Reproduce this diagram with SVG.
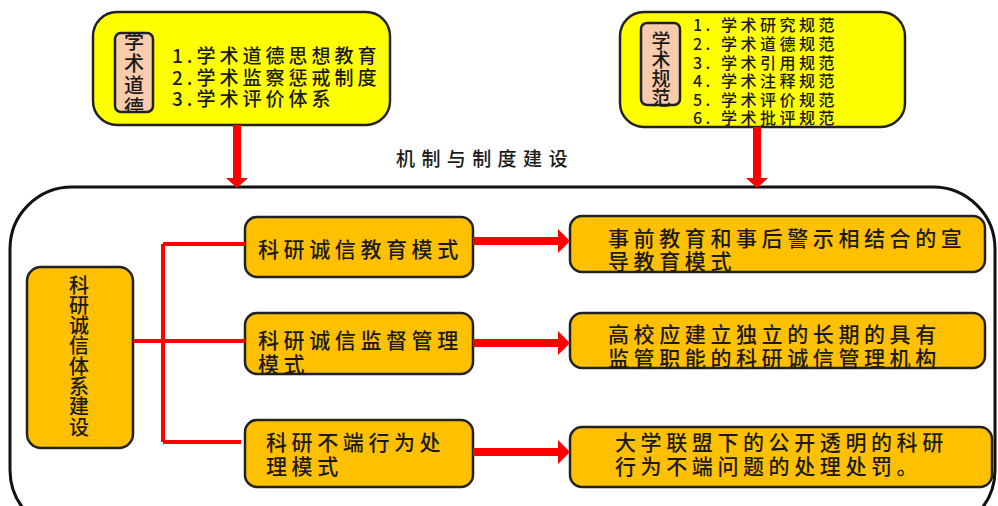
<svg xmlns="http://www.w3.org/2000/svg" width="998" height="506" viewBox="0 0 998 506">
<style>
text{font-family:"Noto Sans CJK SC","Noto Sans CJK JP",sans-serif;fill:#1a1a1a;dominant-baseline:central;font-weight:500}
.yel{fill:#FFFF00;stroke:#222;stroke-width:2.5}
.peach{fill:#F8CBAD;stroke:#222;stroke-width:2.5}
.org{fill:#FFC000;stroke:#222;stroke-width:2.5}
.ln{fill:none;stroke:#FF0000;stroke-width:4}
.arr{fill:#FF0000;stroke:none}
.t20{font-size:21px;letter-spacing:4.6px}
.vt{writing-mode:vertical-rl}
</style>
<defs>
<clipPath id="c1"><rect x="115" y="33" width="38" height="79" rx="6"/></clipPath>
</defs>
<rect x="0" y="0" width="998" height="506" fill="#fff"/>
<g id="big">
<rect x="10" y="187" width="985" height="345" rx="62" fill="none" stroke="#111" stroke-width="3"/>
</g>
<g id="label-mech"><text x="396" y="157" font-size="19" letter-spacing="6.4">机制与制度建设</text></g>
<g id="n-top-left">
<rect class="yel" x="93" y="12" width="297" height="113" rx="24"/>
<rect class="peach" x="115" y="33" width="38" height="79" rx="6"/>
<text class="vt" clip-path="url(#c1)" x="134" y="31" font-size="20" letter-spacing="2">学术道德</text>
<g font-size="19" letter-spacing="4">
<text x="172" y="54">1.学术道德思想教育</text>
<text x="172" y="76">2.学术监察惩戒制度</text>
<text x="172" y="97">3.学术评价体系</text>
</g>
</g>
<g id="n-top-right">
<rect class="yel" x="620" y="12" width="285" height="115" rx="24"/>
<rect class="peach" x="641" y="23" width="39" height="82" rx="6"/>
<text class="vt" x="661" y="31" font-size="19">学术规范</text>
<g font-size="16" letter-spacing="3.5">
<text x="693" y="24">1. 学术研究规范</text>
<text x="693" y="43">2. 学术道德规范</text>
<text x="693" y="62">3. 学术引用规范</text>
<text x="693" y="80">4. 学术注释规范</text>
<text x="693" y="99">5. 学术评价规范</text>
<text x="693" y="117">6. 学术批评规范</text>
</g>
</g>
<g id="n-root">
<rect class="org" x="27" y="267" width="106" height="181" rx="14"/>
<text class="vt" x="79" y="275" font-size="20" letter-spacing="0.3">科研诚信体系建设</text>
</g>
<g id="n-m1"><rect class="org" x="245" y="217" width="228" height="60" rx="12"/><text class="t20" x="258" y="248">科研诚信教育模式</text></g>
<g id="n-m2"><rect class="org" x="245" y="313" width="228" height="61" rx="12"/><text class="t20" x="258" y="339">科研诚信监督管理</text><text class="t20" x="258" y="363">模式</text></g>
<g id="n-m3"><rect class="org" x="245" y="420" width="228" height="67" rx="12"/><text class="t20" x="266" y="441">科研不端行为处</text><text class="t20" x="266" y="465">理模式</text></g>
<g id="n-r1"><rect class="org" x="570" y="216" width="415" height="56" rx="12"/><text class="t20" x="608" y="237">事前教育和事后警示相结合的宣</text><text class="t20" x="608" y="260">导教育模式</text></g>
<g id="n-r2"><rect class="org" x="570" y="313" width="415" height="55" rx="12"/><text class="t20" x="608" y="333">高校应建立独立的长期的具有</text><text class="t20" x="608" y="357">监管职能的科研诚信管理机构</text></g>
<g id="n-r3"><rect class="org" x="570" y="427" width="422" height="60" rx="12"/><text class="t20" x="615" y="441">大学联盟下的公开透明的科研</text><text class="t20" x="615" y="465">行为不端问题的处理处罚。</text></g>
<g id="connectors">
<path class="ln" d="M133 341H163M163 244V442M163 244H245M163 341H245M163 442H241"/>
<path class="arr" d="M233 125h8v53h7l-11 10l-11-10h7z"/>
<path class="arr" d="M753 127h8v51h7l-11 10l-11-10h7z"/>
<path class="arr" d="M473 237h85v-8l12 12l-12 12v-8h-85z"/>
<path class="arr" d="M473 339h85v-8l12 12l-12 12v-8h-85z"/>
<path class="arr" d="M473 448h85v-8l12 12l-12 12v-8h-85z"/>
</g>
</svg>
